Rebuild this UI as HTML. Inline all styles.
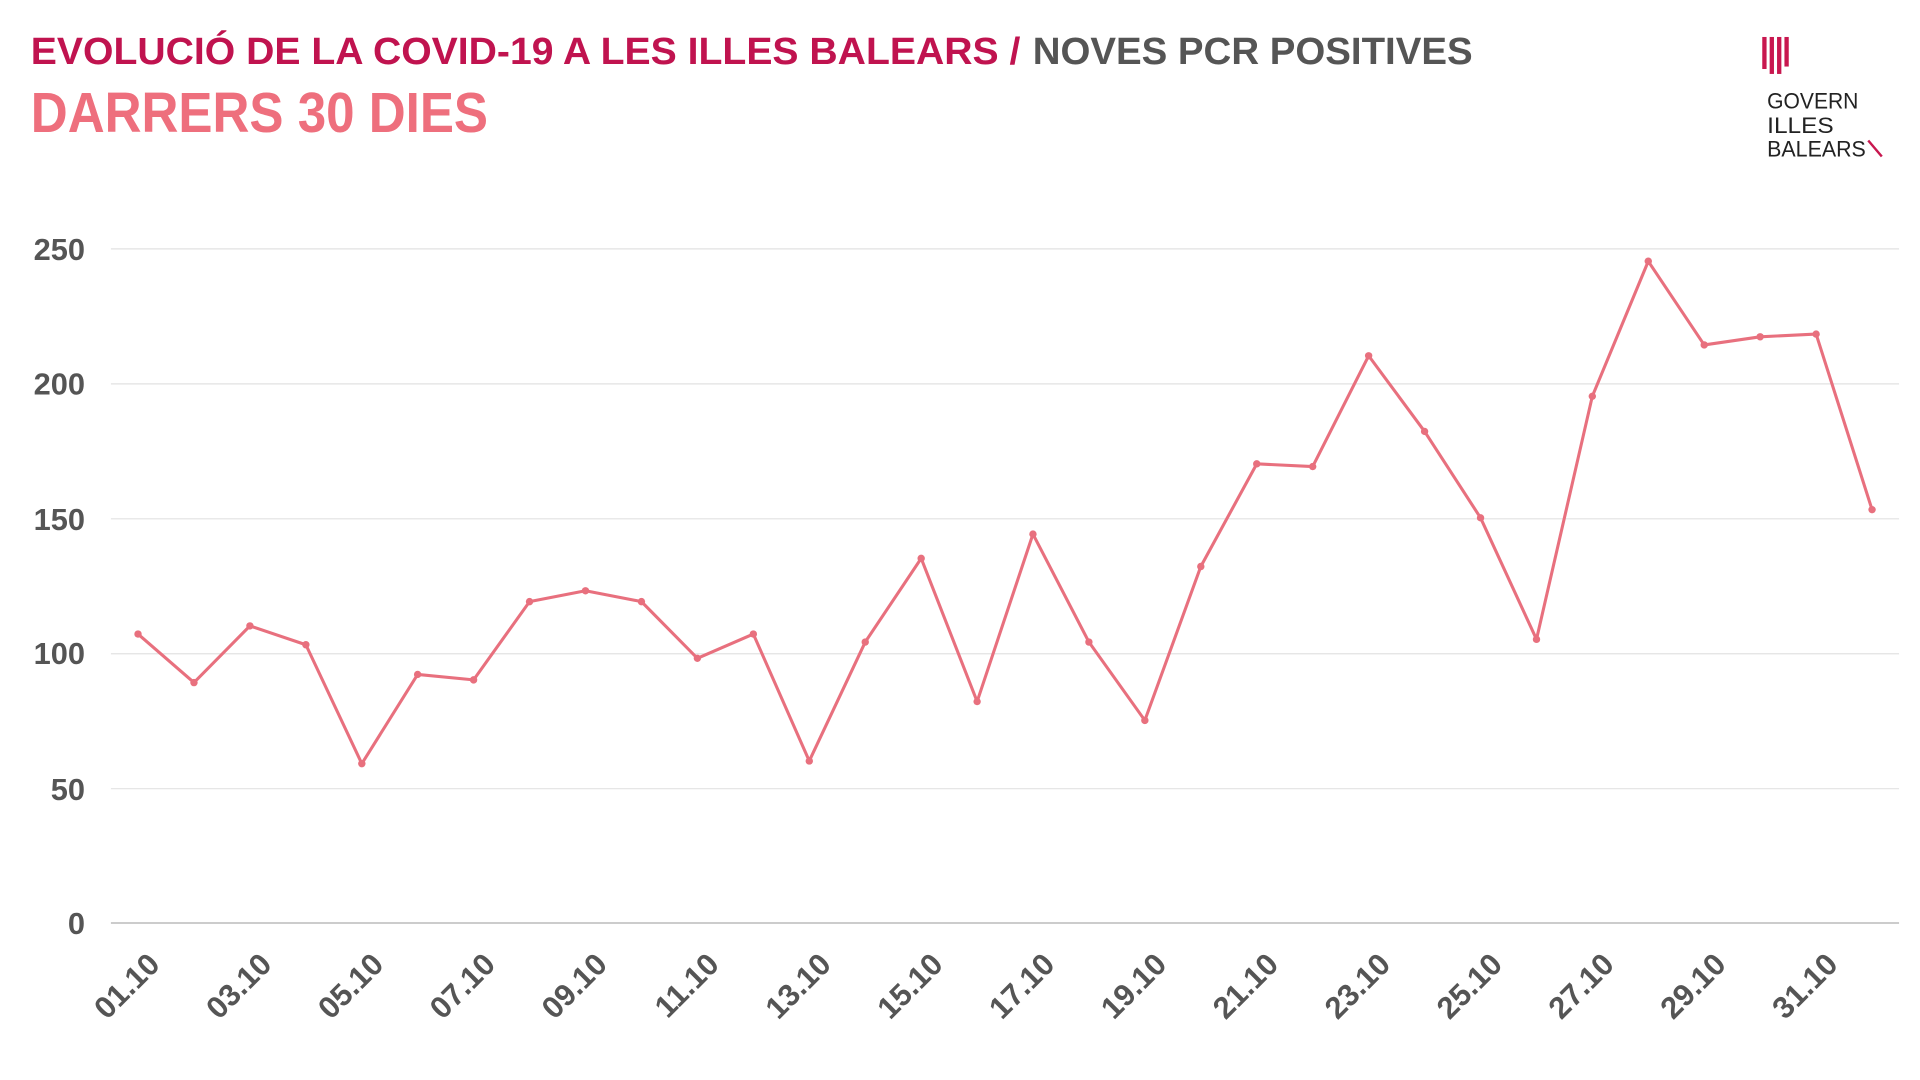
<!DOCTYPE html>
<html><head><meta charset="utf-8"><style>
html,body{margin:0;padding:0;background:#fff;width:1920px;height:1080px;overflow:hidden}
svg{display:block}
text{font-family:"Liberation Sans",sans-serif}
</style></head><body>
<svg width="1920" height="1080" viewBox="0 0 1558 876.4" preserveAspectRatio="none">
<defs><marker id="m" markerWidth="8" markerHeight="8" refX="4" refY="4" markerUnits="userSpaceOnUse"><circle cx="4" cy="4" r="3" fill="#e8707e"/></marker></defs>
<text x="25" y="52" font-size="31" font-weight="bold" fill="#c0134f" textLength="803" lengthAdjust="spacingAndGlyphs">EVOLUCIÓ DE LA COVID-19 A LES ILLES BALEARS /</text>
<text x="838" y="52" font-size="31" font-weight="bold" fill="#555" textLength="357" lengthAdjust="spacingAndGlyphs">NOVES PCR POSITIVES</text>
<text x="25" y="107" font-size="46" font-weight="bold" fill="#ee6f7d" textLength="371" lengthAdjust="spacingAndGlyphs">DARRERS 30 DIES</text>
<g fill="#c8174f">
<rect x="1430" y="30" width="3.5" height="26"/><rect x="1436" y="30" width="3.5" height="30"/><rect x="1442" y="30" width="3.5" height="30"/><rect x="1448" y="30" width="3.5" height="24"/>
</g>
<g font-size="18" fill="#222">
<text x="1434" y="88" textLength="74" lengthAdjust="spacingAndGlyphs">GOVERN</text>
<text x="1434" y="108" textLength="54" lengthAdjust="spacingAndGlyphs">ILLES</text>
<text x="1434" y="127" textLength="80" lengthAdjust="spacingAndGlyphs">BALEARS</text>
</g>
<line x1="1516" y1="114" x2="1527" y2="127" stroke="#c8174f" stroke-width="2"/>
<g stroke="#e2e2e2" stroke-width="1">
<line x1="90" y1="202" x2="1541" y2="202"/><line x1="90" y1="311.5" x2="1541" y2="311.5"/><line x1="90" y1="421" x2="1541" y2="421"/><line x1="90" y1="530.5" x2="1541" y2="530.5"/><line x1="90" y1="640" x2="1541" y2="640"/>
</g>
<line x1="90" y1="749" x2="1541" y2="749" stroke="#bbb" stroke-width="1.3"/>
<g font-size="25" font-weight="bold" fill="#555" text-anchor="end">
<text x="69" y="211">250</text><text x="69" y="320">200</text><text x="69" y="430">150</text><text x="69" y="539">100</text><text x="69" y="649">50</text><text x="69" y="758">0</text>
</g>
<polyline fill="none" stroke="#e8707e" stroke-width="2.5" stroke-linejoin="round" marker-start="url(#m)" marker-mid="url(#m)" marker-end="url(#m)" points="112,514.5 157.4,553.9 202.8,507.9 248.2,523.2 293.6,619.7 338.9,547.3 384.3,551.7 429.7,488.2 475.1,479.4 520.5,488.2 565.9,534.2 611.3,514.5 656.7,617.5 702.1,521 747.5,453.1 792.9,569.3 838.2,433.4 883.6,521 929,584.6 974.4,459.7 1019.8,376.4 1065.2,378.6 1110.6,288.7 1156,350.1 1201.4,420.2 1246.8,518.8 1292.1,321.6 1337.5,212 1382.9,279.9 1428.3,273.3 1473.7,271.1 1519.1,413.6"/>
<g font-size="25" font-weight="bold" fill="#555" text-anchor="end">
<text transform="translate(131,784) rotate(-45)">01.10</text>
<text transform="translate(221.8,784) rotate(-45)">03.10</text>
<text transform="translate(312.6,784) rotate(-45)">05.10</text>
<text transform="translate(403.3,784) rotate(-45)">07.10</text>
<text transform="translate(494.1,784) rotate(-45)">09.10</text>
<text transform="translate(584.9,784) rotate(-45)">11.10</text>
<text transform="translate(675.7,784) rotate(-45)">13.10</text>
<text transform="translate(766.5,784) rotate(-45)">15.10</text>
<text transform="translate(857.2,784) rotate(-45)">17.10</text>
<text transform="translate(948,784) rotate(-45)">19.10</text>
<text transform="translate(1038.8,784) rotate(-45)">21.10</text>
<text transform="translate(1129.6,784) rotate(-45)">23.10</text>
<text transform="translate(1220.4,784) rotate(-45)">25.10</text>
<text transform="translate(1311.1,784) rotate(-45)">27.10</text>
<text transform="translate(1401.9,784) rotate(-45)">29.10</text>
<text transform="translate(1492.7,784) rotate(-45)">31.10</text>
</g>
</svg>
</body></html>
